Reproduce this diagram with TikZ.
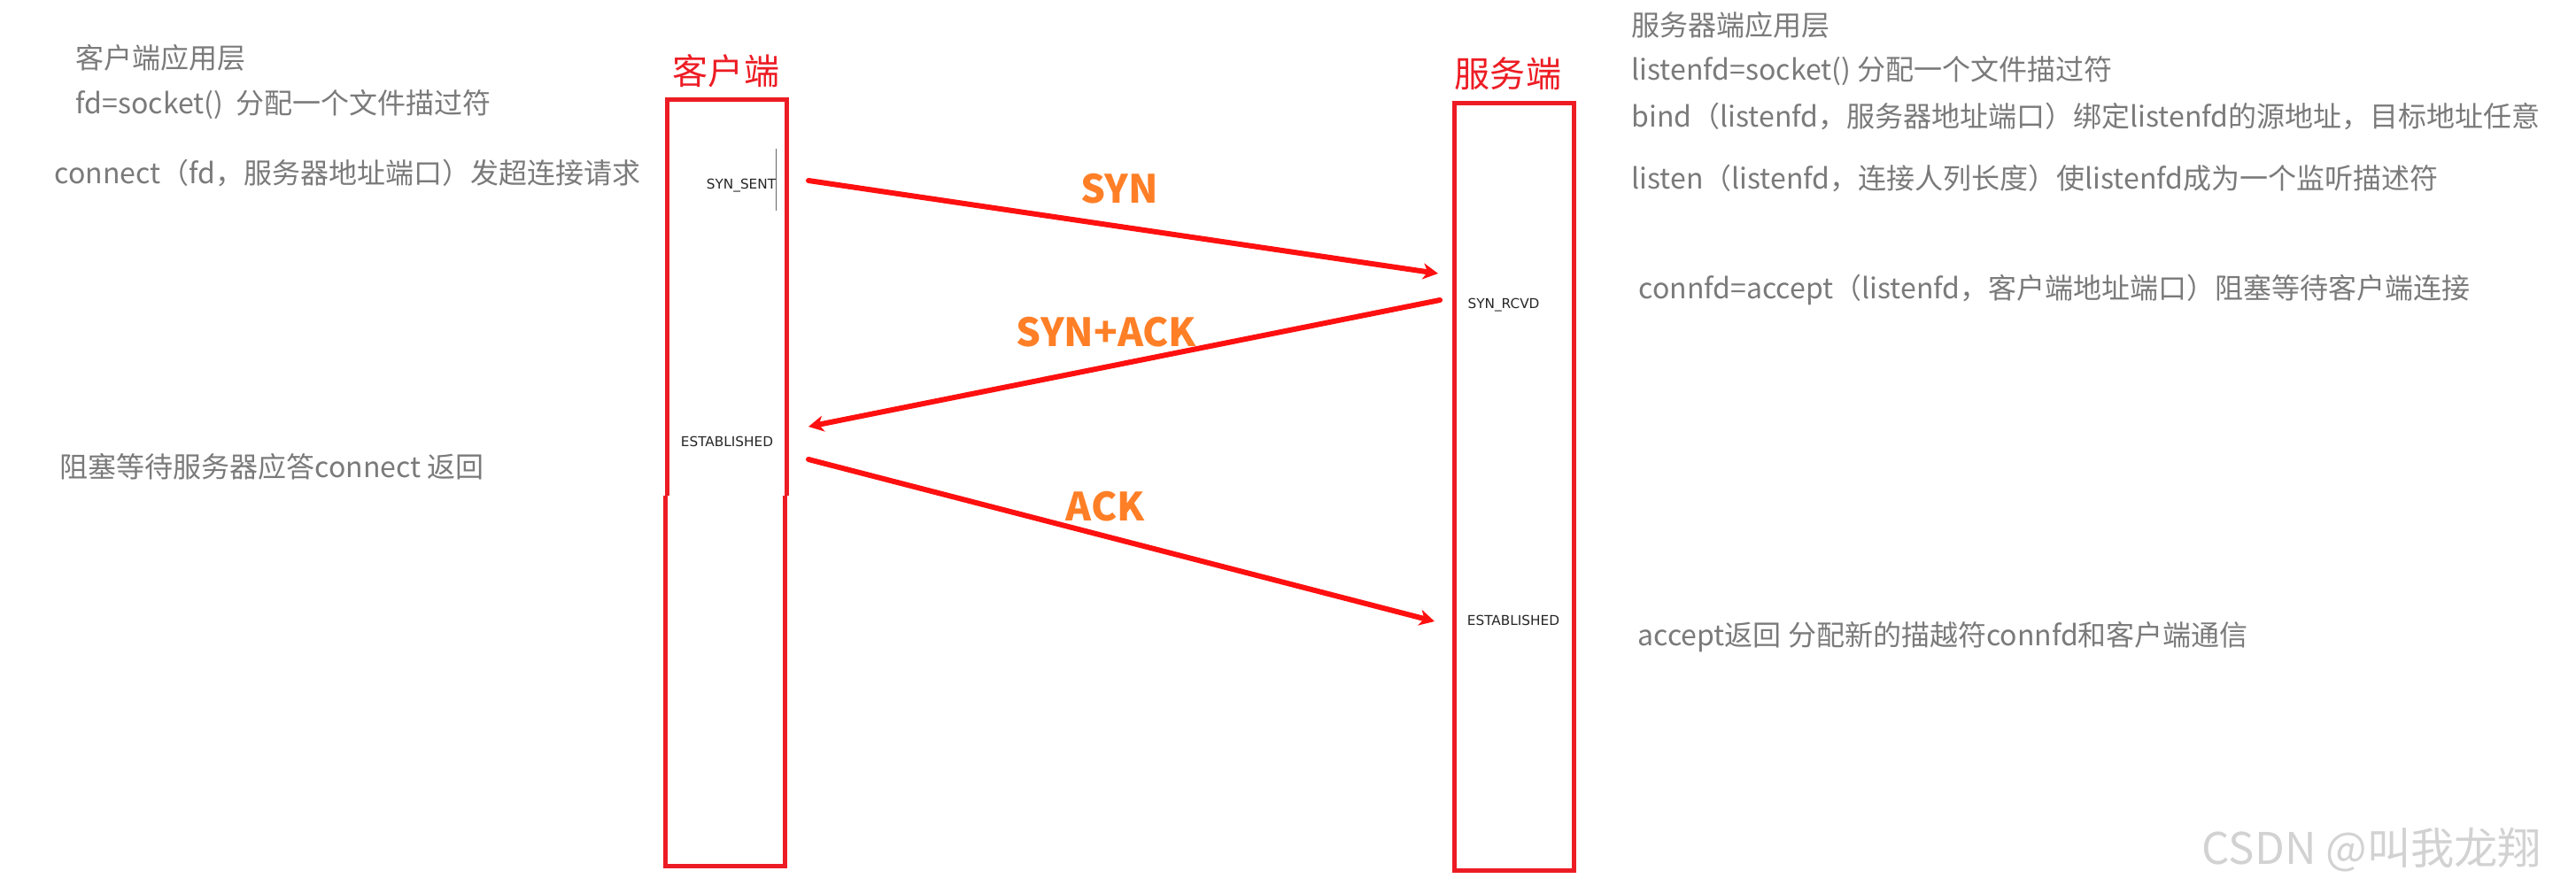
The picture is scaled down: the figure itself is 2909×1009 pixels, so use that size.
\documentclass[tikz,border=0pt]{standalone}
\usepackage{fontspec}
\usepackage{xcolor}
\usetikzlibrary{arrows.meta}
\newfontfamily\cjk{Noto Sans CJK SC}
\newfontfamily\statefont{DejaVu Sans}
\definecolor{notegray}{RGB}{122,122,122}
\definecolor{boxred}{RGB}{237,28,36}
\definecolor{arrowred}{RGB}{255,16,16}
\definecolor{msgorange}{RGB}{255,127,39}

\begin{document}
\begin{tikzpicture}[x=0.01cm, y=-0.01cm, >={Stealth[length=0.17cm, width=0.18cm, inset=0.05cm]},
  every node/.style={inner sep=0pt},
  note/.style={anchor=west, text=notegray, font=\cjk\fontsize{9.1}{11}\selectfont},
  side/.style={text=boxred, font=\cjk\fontsize{11.4}{13}\selectfont},
  state/.style={text=black!85, font=\statefont\fontsize{4.35}{5}\selectfont},
  msg/.style={text=msgorange, font=\cjk\bfseries\fontsize{12.5}{14}\selectfont},
  lane/.style={draw=boxred, line width=0.05cm},
  shake/.style={->, draw=arrowred, line width=0.06cm, line cap=round}]
  \useasboundingbox (0,0) rectangle (2909,1009);
  % lifelines
  \node[side] (clientname) at (820,80) {客户端};
  \node[side] (servername) at (1703,83) {服务端};
  \draw[lane] (753.5,560) -- (753.5,112.5) -- (888.5,112.5) -- (888.5,560);
  \draw[lane] (751.5,560) -- (751.5,978.5) -- (886.5,978.5) -- (886.5,560);
  \draw[lane] (1642.5,116.5) rectangle (1777.5,983.5);
  % states
  \node[state] (sent) at (837,210) {SYN\_SENT};
  \node[state] (estc) at (821,499) {ESTABLISHED};
  \node[state] (rcvd) at (1698,345) {SYN\_RCVD};
  \node[state] (ests) at (1709,701) {ESTABLISHED};
  \draw[black!60, line width=0.012cm] (sent.east) ++(0,-42) -- ++(0,70);
  % handshake
  \coordinate (sent-out) at (913,204);
  \coordinate (rcvd-in) at (1624,309);
  \coordinate (rcvd-out) at (1626,339);
  \coordinate (estc-in) at (913,482);
  \coordinate (estc-out) at (913,519);
  \coordinate (ests-in) at (1620,702);
  \draw[shake] (sent-out) -- (rcvd-in) node[msg, midway, xshift=-0.04cm, yshift=0.43cm] (synlbl) {SYN};
  \draw[shake] (rcvd-out) -- (estc-in) node[msg, midway, xshift=-0.2cm, yshift=0.355cm] (synacklbl) {SYN+ACK};
  \draw[shake] (estc-out) -- (ests-in) node[msg, midway, xshift=-0.185cm, yshift=0.385cm] (acklbl) {ACK};
  % client side notes
  \node[note] (cl1) at (85,65) {客户端应用层};
  \node[note] (cl2) at (85,118) {fd=socket()\ \ 分配一个文件描过符};
  \node[note] (cl3) at (61,196) {connect（fd，服务器地址端口）发超连接请求};
  \node[note] (cl4) at (67,527) {阻塞等待服务器应答connect 返回};
  % server side notes
  \node[note] (sv1) at (1842,28) {服务器端应用层};
  \node[note] (sv2) at (1842,80) {listenfd=socket() 分配一个文件描过符};
  \node[note] (sv3) at (1842,132) {bind（listenfd，服务器地址端口）绑定listenfd的源地址，目标地址任意};
  \node[note] (sv4) at (1842,202) {listen（listenfd，连接人列长度）使listenfd成为一个监听描述符};
  \node[note] (sv5) at (1850,327) {connfd=accept（listenfd，客户端地址端口）阻塞等待客户端连接};
  \node[note] (sv6) at (1849,720) {accept返回 分配新的描越符connfd和客户端通信};
  \node[anchor=west, text=gray!35, font=\cjk\fontsize{14}{16}\selectfont] (mark) at (2486,960) {CSDN @叫我龙翔};
\end{tikzpicture}
\end{document}
